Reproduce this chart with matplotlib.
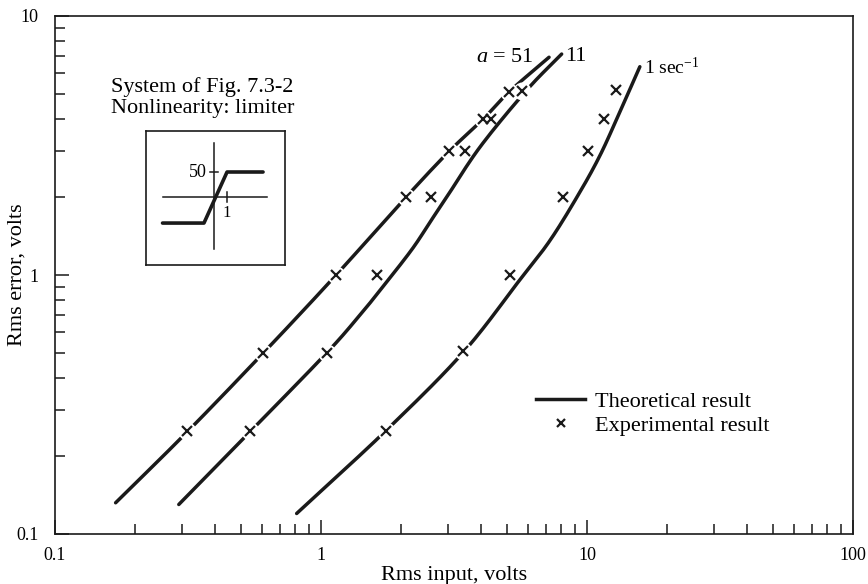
import numpy as np
import matplotlib
matplotlib.use("Agg")
import matplotlib.pyplot as plt
from matplotlib.ticker import FixedLocator, NullFormatter

# ---------------- data ----------------
# theoretical curves (Rms input, Rms error)
curve51_x = [0.169, 0.313, 0.607, 1.14, 2.09, 3.03, 4.07, 5.1, 7.2]
curve51_y = [0.132, 0.247, 0.50, 1.0, 2.0, 3.0, 4.0, 5.1, 6.93]

curve11_x = [0.292, 0.541, 1.05, 1.40, 1.67, 2.19, 2.60, 2.97, 3.97, 5.93, 8.03]
curve11_y = [0.130, 0.248, 0.50, 0.70, 0.875, 1.25, 1.63, 2.0, 3.13, 5.17, 7.13]

curve1_x = [0.81, 1.75, 3.41, 5.6, 7.26, 9.3, 11.2, 13.3, 15.8]
curve1_y = [0.12, 0.25, 0.50, 0.96, 1.36, 2.05, 2.90, 4.27, 6.37]

# experimental results
exp51_x = [0.313, 0.607, 1.14, 2.09, 3.03, 4.07, 5.1]
exp51_y = [0.25, 0.50, 1.0, 2.0, 3.0, 4.0, 5.1]
exp11_x = [0.541, 1.05, 1.63, 2.59, 3.49, 4.36, 5.68]
exp11_y = [0.25, 0.50, 1.0, 2.0, 3.0, 4.0, 5.15]
exp1_x = [1.75, 3.41, 5.14, 8.1, 10.1, 11.6, 12.9]
exp1_y = [0.25, 0.51, 1.0, 2.0, 3.0, 4.0, 5.2]

curve_labels = ["$a$ = 51", "11", "1 sec$^{-1}$"]

x_ticks = [0.1, 1, 10, 100]
x_ticklabels = ["0.1", "1", "10", "100"]
y_ticks = [0.1, 1, 10]
y_ticklabels = ["0.1", "1", "10"]

# inset (limiter characteristic, schematic)
limiter_x = [-0.37, -0.072, 0.094, 0.353]
limiter_y = [-0.194, -0.194, 0.187, 0.187]

# ---------------- drawing ----------------
SERIF = ["Liberation Serif", "DejaVu Serif"]
plt.rcParams["font.family"] = SERIF
plt.rcParams["mathtext.fontset"] = "custom"
plt.rcParams["mathtext.it"] = "Liberation Serif:italic"
plt.rcParams["mathtext.rm"] = "Liberation Serif"

INK = "#1a1a1a"

fig = plt.figure(figsize=(8.68, 5.84), dpi=100)
ax = fig.add_axes([55 / 868, 1 - 534 / 584, (853 - 55) / 868, (534 - 16) / 584])
ax.set_xscale("log")
ax.set_yscale("log")
ax.set_xlim(0.1, 100)
ax.set_ylim(0.1, 10)


def smooth(xs, ys, n=16):
    """Catmull-Rom densification in log-log space for drawing."""
    lx, ly = np.log10(xs), np.log10(ys)
    P = np.column_stack([lx, ly])
    P = np.vstack([2 * P[0] - P[1], P, 2 * P[-1] - P[-2]])
    out = []
    t = np.linspace(0, 1, n, endpoint=False)[:, None]
    for i in range(1, len(P) - 2):
        p0, p1, p2, p3 = P[i - 1], P[i], P[i + 1], P[i + 2]
        seg = 0.5 * ((2 * p1) + (-p0 + p2) * t + (2 * p0 - 5 * p1 + 4 * p2 - p3) * t ** 2
                     + (-p0 + 3 * p1 - 3 * p2 + p3) * t ** 3)
        out.append(seg)
    out.append(P[-2][None, :])
    out = np.vstack(out)
    return 10 ** out[:, 0], 10 ** out[:, 1]


curves = [(curve51_x, curve51_y), (curve11_x, curve11_y), (curve1_x, curve1_y)]
exps = [(exp51_x, exp51_y), (exp11_x, exp11_y), (exp1_x, exp1_y)]

for cx, cy in curves:
    sx, sy = smooth(cx, cy)
    ax.plot(sx, sy, color=INK, lw=2.5, solid_capstyle="round", zorder=2)

# white halos where a marker sits on its curve (line broken at the marker)
for (cx, cy), (ex, ey) in zip(curves, exps):
    ex_a, ey_a = np.array(ex), np.array(ey)
    cy_at = 10 ** np.interp(np.log10(ex_a), np.log10(cx), np.log10(cy))
    on = np.abs(np.log10(ey_a / cy_at)) < 0.045
    ax.plot(ex_a[on], ey_a[on], ls="none", marker="o", ms=13, mfc="white",
            mec="none", zorder=3)

for ex, ey in exps:
    ax.plot(ex, ey, ls="none", marker="x", ms=7, mew=1.6, color=INK, zorder=4)

# curve labels
ax.text(6.3, 6.9, curve_labels[0], ha="right", va="center", fontsize=16)
ax.text(8.3, 7.0, curve_labels[1], ha="left", va="center", fontsize=16)
ax.text(16.4, 6.3, curve_labels[2], ha="left", va="center", fontsize=14)

# ticks
ax.xaxis.set_major_locator(FixedLocator(x_ticks))
ax.set_xticklabels(x_ticklabels)
ax.yaxis.set_major_locator(FixedLocator(y_ticks))
ax.set_yticklabels(y_ticklabels)
ax.xaxis.set_minor_formatter(NullFormatter())
ax.yaxis.set_minor_formatter(NullFormatter())
ax.tick_params(which="both", direction="in", top=False, right=False,
               labelsize=13, width=1.1, color=INK)
ax.tick_params(which="major", length=10)
ax.tick_params(which="minor", length=7.5)
ax.tick_params(axis="x", which="major", pad=9)
ax.tick_params(axis="y", which="major", pad=12)
for sp in ax.spines.values():
    sp.set_linewidth(1.2)
    sp.set_color(INK)

ax.set_xlabel("Rms input, volts", fontsize=16)
ax.set_ylabel("Rms error, volts", fontsize=16)
ax.xaxis.set_label_coords(0.5, (534 - 566) / 518)
ax.yaxis.set_label_coords((27 - 55) / 798, 0.5)

# legend
ax.legend(handles=[plt.Line2D([], [], color=INK, lw=2.5),
                   plt.Line2D([], [], ls="none", marker="x", ms=6, mew=1.6, color=INK)],
          labels=["Theoretical result", "Experimental result"],
          loc="upper left", bbox_to_anchor=(0.578, 0.314), frameon=False,
          fontsize=16, handlelength=2.2, handletextpad=0.45, labelspacing=0.15)

# description text
fig.text(111 / 868, 1 - 87 / 584, "System of Fig. 7.3-2", ha="left", va="center", fontsize=16)
fig.text(111 / 868, 1 - 109 / 584, "Nonlinearity: limiter", ha="left", va="center", fontsize=16)

# inset with limiter characteristic
ins = fig.add_axes([146 / 868, 1 - 265 / 584, 139 / 868, 134 / 584])
ins.set_xlim(-0.489, 0.511)
ins.set_ylim(-0.507, 0.493)
ins.set_xticks([])
ins.set_yticks([])
for sp in ins.spines.values():
    sp.set_linewidth(1.2)
    sp.set_color(INK)
ins.plot([-0.367, 0.381], [0, 0], color=INK, lw=1.1)
ins.plot([0, 0], [-0.388, 0.403], color=INK, lw=1.1)
ins.plot(limiter_x, limiter_y, color=INK, lw=2.6, solid_capstyle="round")
ins.plot([-0.03, 0.03], [limiter_y[-1], limiter_y[-1]], color=INK, lw=1.1)
ins.plot([limiter_x[2], limiter_x[2]], [-0.035, 0.035], color=INK, lw=1.1)
ins.text(-0.05, limiter_y[-1], "50", ha="right", va="center", fontsize=13)
ins.text(limiter_x[2], -0.12, "1", ha="center", va="center", fontsize=12)

fig.savefig("out.png", dpi=100)
